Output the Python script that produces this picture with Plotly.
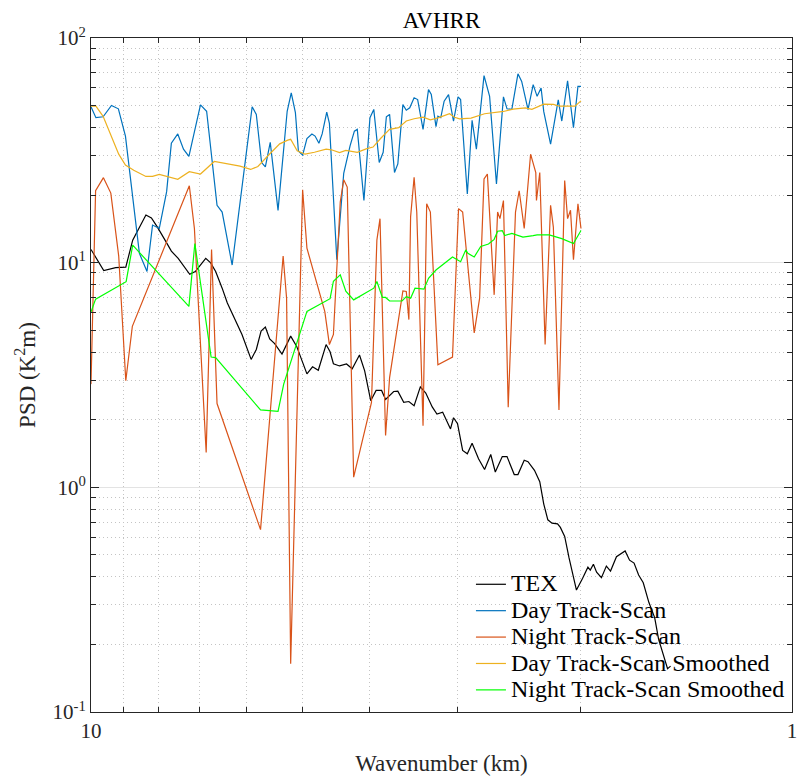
import plotly.graph_objects as go

# ---------------- data (wavelength in km, PSD in K^2 m) ----------------
tex_x = [10, 9.59, 9.22, 8.92, 8.72, 8.35, 8.20, 8.04, 7.83, 7.68, 7.51, 7.36, 7.23, 7.10,
         6.86, 6.75, 6.64, 6.50, 6.39, 6.09, 5.91, 5.81, 5.72, 5.64, 5.56, 5.47, 5.34, 5.19,
         5.09, 4.99, 4.92, 4.83, 4.74, 4.62, 4.56, 4.51, 4.42, 4.32, 4.24, 4.14, 4.07, 3.99,
         3.92, 3.85, 3.80, 3.70, 3.65, 3.58, 3.52, 3.46, 3.39, 3.33, 3.26, 3.21, 3.15, 3.07,
         3.04, 3.00, 2.95, 2.905, 2.86, 2.80, 2.745, 2.69, 2.65, 2.59, 2.55, 2.49, 2.46, 2.41,
         2.38, 2.33, 2.29, 2.26, 2.23, 2.20, 2.16, 2.14, 2.11, 2.08, 2.03, 1.99, 1.955, 1.94,
         1.92, 1.90, 1.87, 1.84, 1.815, 1.78, 1.75, 1.73, 1.705, 1.68, 1.655, 1.63, 1.60, 1.57,
         1.55, 1.52, 1.505, 1.49]
tex_y = [11.45, 9.22, 9.51, 9.55, 12.6, 16.3, 15.8, 14.4, 12.5, 11.25, 10.45, 9.60, 8.88, 9.13,
         10.45, 9.98, 9.13, 7.70, 6.61, 4.79, 3.71, 4.11, 4.96, 5.17, 4.58, 4.36, 3.92, 4.71,
         4.25, 3.60, 3.20, 3.44, 3.32, 4.32, 4.01, 3.55, 3.47, 3.54, 3.37, 3.88, 3.30, 2.43,
         2.70, 2.70, 2.46, 2.67, 2.68, 2.39, 2.41, 2.31, 2.80, 2.63, 2.28, 2.12, 2.16, 1.82,
         2.04, 1.92, 1.46, 1.41, 1.57, 1.34, 1.20, 1.40, 1.17, 1.37, 1.37, 1.14, 1.14, 1.32,
         1.30, 1.19, 1.06, 0.842, 0.717, 0.693, 0.688, 0.663, 0.605, 0.485, 0.349, 0.393, 0.441, 0.428,
         0.455, 0.419, 0.396, 0.446, 0.424, 0.491, 0.509, 0.521, 0.474, 0.460, 0.407, 0.376, 0.307, 0.263,
         0.211, 0.175, 0.156, 0.160]

day_x = [10, 9.84, 9.61, 9.35, 9.14, 8.93, 8.53, 8.32, 8.17, 7.99, 7.80, 7.68, 7.52, 7.38,
         7.25, 6.98, 6.84, 6.61, 6.50, 6.39, 6.29, 5.89, 5.81, 5.71, 5.64, 5.55, 5.41, 5.25,
         5.18, 5.11, 5.06, 4.99, 4.92, 4.84, 4.79, 4.73, 4.68, 4.61, 4.57, 4.46, 4.36, 4.27,
         4.21, 4.17, 4.08, 4.00, 3.95, 3.88, 3.83, 3.79, 3.75, 3.69, 3.65, 3.59, 3.55, 3.51,
         3.46, 3.42, 3.36, 3.30, 3.27, 3.22, 3.20, 3.17, 3.135, 3.09, 3.04, 2.995, 2.97, 2.905,
         2.86, 2.82, 2.75, 2.70, 2.64, 2.58, 2.55, 2.51, 2.46, 2.43, 2.38, 2.34, 2.31, 2.28,
         2.26, 2.21, 2.155, 2.13, 2.09, 2.05, 2.02, 2.0]
day_y = [49.4, 44.2, 44.6, 50.1, 48.4, 36.6, 11.0, 9.13, 14.7, 14.2, 20.7, 34.0, 37.4, 32.0,
         29.7, 50.4, 47.2, 18.0, 16.8, 12.4, 9.76, 49.4, 45.7, 27.9, 26.7, 34.3, 17.1, 47.2,
         57.0, 46.5, 31.4, 30.1, 35.7, 37.4, 36.6, 34.0, 37.4, 46.8, 41.7, 10.3, 25.0, 33.1,
         38.5, 39.2, 18.9, 44.2, 48.1, 27.9, 31.0, 44.6, 45.7, 25.2, 27.5, 50.5, 47.7, 48.9,
         54.2, 53.2, 39.2, 58.9, 56.0, 40.3, 44.9, 44.2, 52.3, 56.0, 42.7, 54.7, 53.2, 20.2,
         43.0, 32.0, 68.0, 55.0, 22.4, 54.7, 48.4, 48.1, 69.3, 64.1, 48.0, 62.0, 55.0, 59.9,
         47.0, 33.7, 53.0, 42.7, 64.5, 39.9, 60.9, 60.9]

night_x = [10, 9.85, 9.60, 9.37, 9.13, 8.92, 8.73, 7.24, 7.12, 6.85, 6.73, 6.61, 5.73, 5.32,
           5.26, 5.19, 4.99, 4.92, 4.64, 4.57, 4.51, 4.41, 4.36, 4.31, 4.22, 3.98, 3.91, 3.87,
           3.80, 3.75, 3.59, 3.55, 3.52, 3.50, 3.46, 3.43, 3.36, 3.32, 3.28, 3.20, 3.05, 2.99,
           2.95, 2.84, 2.79, 2.75, 2.72, 2.66, 2.63, 2.61, 2.58, 2.54, 2.48, 2.45, 2.41, 2.36,
           2.32, 2.315, 2.29, 2.25, 2.21, 2.19, 2.15, 2.11, 2.09, 2.07, 2.05, 2.02, 2.0]
night_y = [2.88, 20.9, 23.9, 20.4, 10.7, 2.98, 5.21, 22.0, 14.2, 1.43, 11.45, 2.36, 0.648, 10.7,
           6.95, 0.164, 21.1, 11.6, 6.07, 4.32, 4.79, 18.6, 23.4, 21.7, 1.11, 2.39, 12.6, 15.7,
           1.70, 3.08, 7.49, 7.44, 5.58, 16.0, 24.0, 16.8, 1.88, 18.3, 16.8, 3.51, 3.80, 17.4,
           16.8, 4.87, 6.95, 23.6, 24.8, 7.19, 16.8, 15.7, 18.9, 2.27, 16.8, 20.9, 14.2, 30.4,
           25.2, 18.9, 25.2, 4.32, 18.0, 14.4, 2.21, 23.2, 15.7, 17.1, 10.3, 18.3, 14.2]

day_s_x = [10, 9.84, 9.61, 9.36, 9.13, 8.93, 8.69, 8.35, 8.17, 7.99, 7.52, 7.24, 6.98, 6.67,
           6.36, 6.13, 5.92, 5.78, 5.57, 5.38, 5.24, 5.19, 5.08, 4.95, 4.80, 4.62, 4.54, 4.42,
           4.33, 4.17, 4.05, 3.96, 3.86, 3.75, 3.64, 3.55, 3.46, 3.36, 3.28, 3.19, 3.08, 3.03,
           2.98, 2.87, 2.745, 2.66, 2.58, 2.50, 2.40, 2.35, 2.29, 2.26, 2.19, 2.145, 2.04, 2.02,
           2.0]
day_s_y = [49.7, 49.7, 44.8, 36.5, 30.4, 27.2, 25.8, 24.2, 24.2, 24.7, 23.5, 25.4, 24.8, 28.2,
           27.5, 26.9, 26.0, 26.8, 30.3, 33.8, 35.1, 35.4, 31.5, 30.4, 31.0, 32.0, 31.8, 30.9,
           31.6, 31.0, 32.1, 32.7, 35.8, 39.2, 39.9, 42.7, 43.7, 44.4, 43.2, 44.2, 46.0, 44.4,
           43.7, 44.0, 46.0, 46.5, 47.1, 48.2, 48.9, 48.1, 50.1, 50.8, 50.6, 49.7, 49.7, 51.1,
           52.5]

night_s_x = [10, 9.85, 8.91, 8.72, 7.25, 7.11, 6.74, 6.64, 5.73, 5.41, 5.31, 5.09, 4.92, 4.56,
             4.51, 4.41, 4.33, 4.22, 3.95, 3.91, 3.84, 3.80, 3.75, 3.60, 3.55, 3.50, 3.45, 3.35,
             3.30, 3.22, 3.05, 2.97, 2.92, 2.90, 2.84, 2.78, 2.71, 2.66, 2.63, 2.59, 2.57, 2.51,
             2.42, 2.34, 2.31, 2.22, 2.13, 2.05, 2.02, 2.0]
night_s_y = [6.03, 6.88, 8.23, 11.96, 6.39, 12.17, 3.80, 3.78, 2.21, 2.18, 2.88, 4.32, 6.07, 6.91,
             8.27, 8.82, 7.47, 6.83, 7.70, 8.24, 7.00, 7.00, 6.75, 6.75, 7.06, 6.95, 7.70, 7.62,
             8.52, 9.27, 10.6, 10.1, 11.4, 11.0, 10.6, 11.8, 12.1, 12.7, 13.8, 13.9, 13.2, 13.5,
             13.0, 13.2, 13.3, 13.3, 12.8, 12.17, 13.1, 13.9]

series = [
    ("TEX", tex_x, tex_y, "#000000"),
    ("Day Track-Scan", day_x, day_y, "#0072BD"),
    ("Night Track-Scan", night_x, night_y, "#D95319"),
    ("Day Track-Scan Smoothed", day_s_x, day_s_y, "#EDB120"),
    ("Night Track-Scan Smoothed", night_s_x, night_s_y, "#00FF00"),
]

x_tickvals = [10, 1]
x_ticktext = ["10", "1"]
y_tickvals = [0.1, 1, 10, 100]
y_ticktext = ["10<sup>-1</sup>", "10<sup>0</sup>", "10<sup>1</sup>", "10<sup>2</sup>"]

FONT = "Liberation Serif"
AXC = "#262626"

fig = go.Figure()
for name, xs, ys, col in series:
    fig.add_trace(go.Scatter(
        x=xs, y=ys, mode="lines",
        name="<span style='font-size:24px'>" + name + "</span>",
        line=dict(color=col, width=1.2)))

axis_common = dict(
    showline=True, linecolor=AXC, linewidth=1, mirror="allticks",
    ticks="inside", ticklen=8, tickcolor=AXC, tickwidth=1,
    showgrid=True, gridcolor="#e3e3e3", gridwidth=1,
    zeroline=False,
    tickfont=dict(family=FONT, size=21, color=AXC),
    minor=dict(ticks="inside", ticklen=5, tickcolor=AXC, dtick="D1",
               showgrid=True, gridcolor="#c4c4c4", griddash="1px,3px", gridwidth=1),
)

fig.update_layout(
    width=804, height=778,
    margin=dict(l=91, r=7, t=38, b=61),
    paper_bgcolor="white", plot_bgcolor="white",
    font=dict(family=FONT, color="#000000"),
    title=dict(text="AVHRR", x=0.5, xref="paper", xanchor="center",
               y=1, yref="paper", yanchor="bottom", pad=dict(b=10),
               font=dict(family=FONT, size=23, color="#000000")),
    xaxis=dict(type="log", range=[1, 0], autorange=False,
               tickvals=x_tickvals, ticktext=x_ticktext,
               title=dict(text="Wavenumber (km)", standoff=12,
                          font=dict(family=FONT, size=23, color=AXC)),
               **axis_common),
    yaxis=dict(type="log", range=[-1, 2], autorange=False,
               tickvals=y_tickvals, ticktext=y_ticktext,
               title=dict(text="PSD (K<sup>2</sup>m)", standoff=10,
                          font=dict(family=FONT, size=23, color=AXC)),
               **axis_common),
    legend=dict(x=0.542, y=0.2165, xanchor="left", yanchor="top",
                bgcolor="rgba(0,0,0,0)", borderwidth=0,
                font=dict(family=FONT, size=18, color="#000000"),
                tracegroupgap=0),
    showlegend=True,
)

fig.write_html("out.html")
